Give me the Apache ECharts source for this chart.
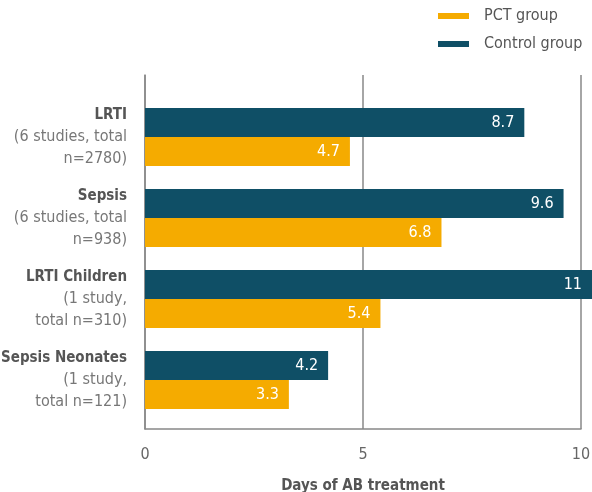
<!DOCTYPE html>
<html>
<head>
<meta charset="utf-8">
<script src="https://cdn.jsdelivr.net/npm/echarts@6/dist/echarts.min.js"></script>
<style>
  html, body { margin: 0; padding: 0; background: #fff; }
  #chart { width: 592px; height: 492px; }
</style>
</head>
<body>
<div id="chart"></div>
<script>
// Study groups shown on the vertical axis (name + study details)
const categories = ['LRTI', 'Sepsis', 'LRTI Children', 'Sepsis Neonates'];
const details = [
  '(6 studies, total\nn=2780)',
  '(6 studies, total\nn=938)',
  '(1 study,\ntotal n=310)',
  '(1 study,\ntotal n=121)'
];
// Mean days of antibiotic treatment
const controlValues = [8.7, 9.6, 11, 4.2];
const pctValues = [4.7, 6.8, 5.4, 3.3];
const xTicks = [0, 5, 10];

const FONT = "'Liberation Sans Narrow', 'DejaVu Sans Condensed', 'Liberation Sans', sans-serif";
const CONTROL = '#0f4f66';
const PCT = '#f5ab00';
const W = 592;
const LEFT = 145;
const RIGHT = 11;
const axisMax = xTicks[xTicks.length - 1];
const axisStep = xTicks[1] - xTicks[0];
// bars run to the right edge of the canvas, on the same scale as the axis
const barMax = axisMax * (W - LEFT) / (W - LEFT - RIGHT);

const chart = echarts.init(document.getElementById('chart'), null, { renderer: 'canvas' });

chart.setOption({
  backgroundColor: '#ffffff',
  textStyle: { fontFamily: FONT },
  legend: {
    orient: 'vertical',
    left: 433,
    top: 3,
    itemWidth: 31,
    itemHeight: 6,
    itemGap: 12,
    icon: 'rect',
    data: ['PCT group', 'Control group'],
    textStyle: { fontFamily: FONT, fontSize: 16, color: '#555', padding: [0, 0, 0, 10] }
  },
  grid: [
    { left: LEFT, right: RIGHT, top: 75, bottom: 63, outerBoundsMode: 'none', containLabel: false },
    { left: LEFT, right: 0, top: 96.5, bottom: 71.5, outerBoundsMode: 'none', containLabel: false }
  ],
  xAxis: [
    {
      gridIndex: 0,
      type: 'value',
      min: xTicks[0],
      max: axisMax,
      interval: axisStep,
      axisLine: { show: true, lineStyle: { color: '#888', width: 1.5 } },
      axisTick: { show: false },
      splitLine: { show: true, lineStyle: { color: '#888', width: 1.5 } },
      axisLabel: { color: '#666', fontSize: 16, margin: 18, fontFamily: FONT },
      name: 'Days of AB treatment',
      nameLocation: 'middle',
      nameGap: 50,
      nameTextStyle: { color: '#555', fontSize: 15, fontWeight: 'bold', fontFamily: FONT }
    },
    {
      gridIndex: 1,
      type: 'value',
      min: 0,
      max: barMax,
      show: false
    }
  ],
  yAxis: [
    {
      gridIndex: 0,
      type: 'value',
      min: 0,
      max: 1,
      axisLine: { show: true, lineStyle: { color: '#888', width: 1.5 } },
      axisTick: { show: false },
      axisLabel: { show: false },
      splitLine: { show: false }
    },
    {
      gridIndex: 1,
      type: 'category',
      inverse: true,
      data: categories,
      axisLine: { show: false },
      axisTick: { show: false },
      axisLabel: {
        margin: 18,
        align: 'right',
        formatter: function (value, idx) {
          return '{b|' + value + '}\n{n|' + details[idx].split('\n').join('}\n{n|') + '}';
        },
        rich: {
          b: { fontFamily: FONT, fontSize: 15, fontWeight: 'bold', color: '#555', lineHeight: 22, align: 'right' },
          n: { fontFamily: FONT, fontSize: 16, color: '#777', lineHeight: 22, align: 'right' }
        }
      }
    }
  ],
  series: [
    {
      name: 'Control group',
      type: 'bar',
      xAxisIndex: 1,
      yAxisIndex: 1,
      data: controlValues,
      barWidth: 29,
      barGap: '0%',
      itemStyle: { color: CONTROL },
      label: {
        show: true,
        position: 'insideRight',
        distance: 10,
        color: '#fff',
        fontSize: 16,
        fontWeight: 500,
        fontFamily: FONT
      }
    },
    {
      name: 'PCT group',
      type: 'bar',
      xAxisIndex: 1,
      yAxisIndex: 1,
      data: pctValues,
      barWidth: 29,
      barGap: '0%',
      itemStyle: { color: PCT },
      label: {
        show: true,
        position: 'insideRight',
        distance: 10,
        color: '#fff',
        fontSize: 16,
        fontWeight: 500,
        fontFamily: FONT
      }
    }
  ]
});
</script>
</body>
</html>
